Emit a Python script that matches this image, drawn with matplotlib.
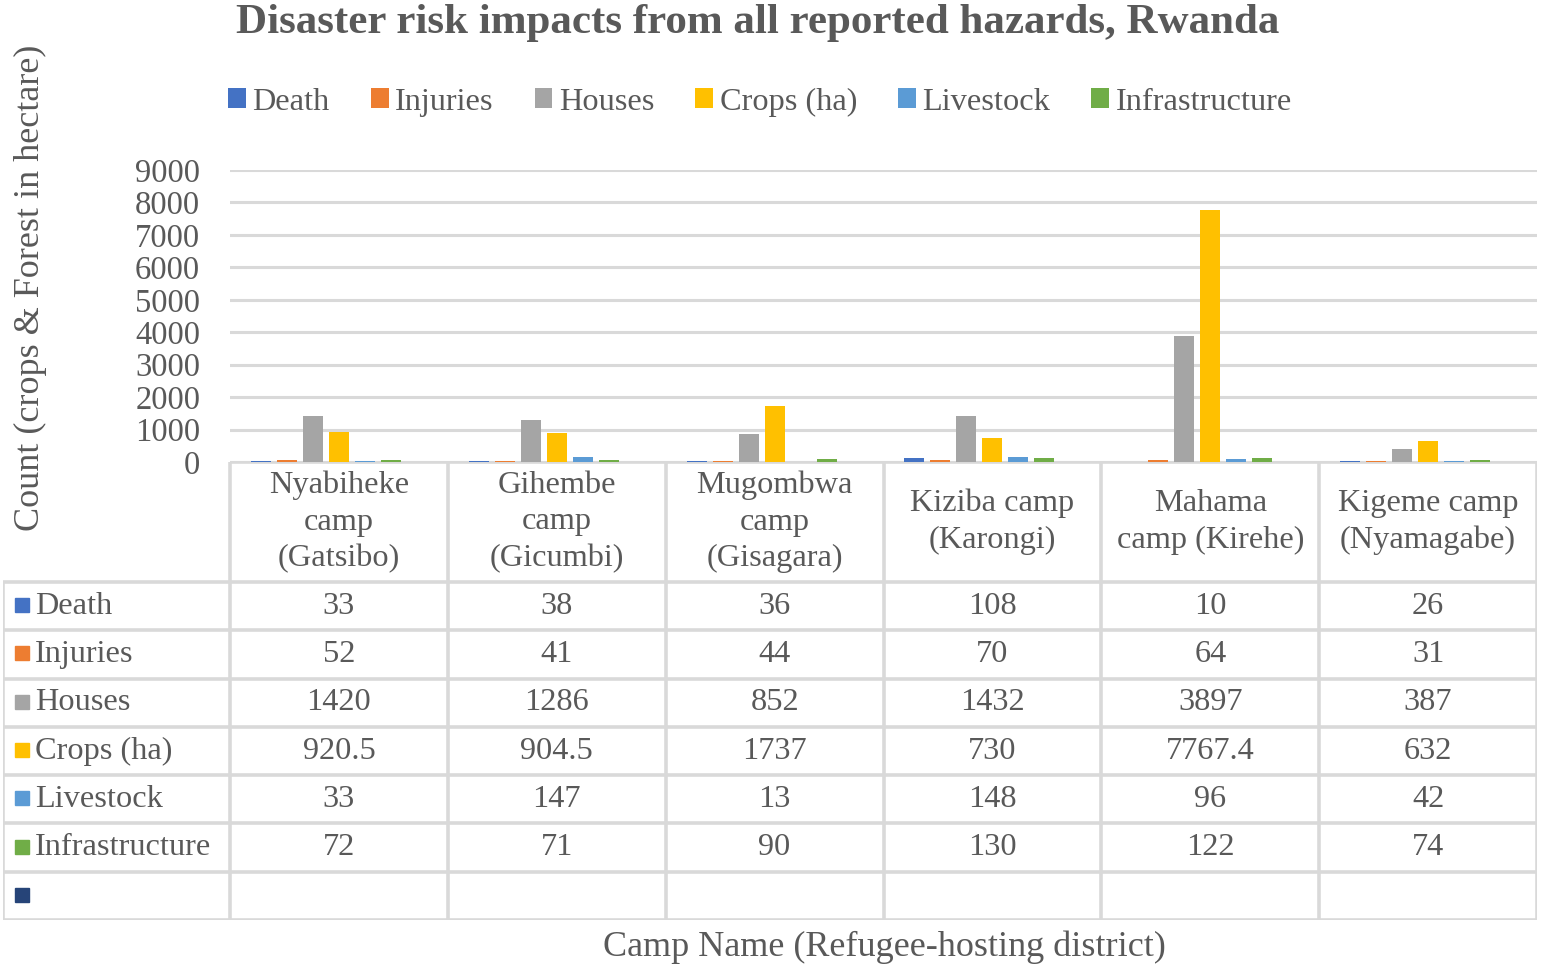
import numpy as np
import matplotlib
matplotlib.use('Agg')
from matplotlib import pyplot as plt

# chart data
camps = ['Nyabiheke\ncamp\n(Gatsibo)', 'Gihembe\ncamp\n(Gicumbi)', 'Mugombwa\ncamp\n(Gisagara)',
         'Kiziba camp\n(Karongi)', 'Mahama\ncamp (Kirehe)', 'Kigeme camp\n(Nyamagabe)']
series = ['Death', 'Injuries', 'Houses', 'Crops (ha)', 'Livestock', 'Infrastructure', '']
death = [33, 38, 36, 108, 10, 26]
injuries = [52, 41, 44, 70, 64, 31]
houses = [1420, 1286, 852, 1432, 3897, 387]
crops = [920.5, 904.5, 1737, 730, 7767.4, 632]
livestock = [33, 147, 13, 148, 96, 42]
infrastructure = [72, 71, 90, 130, 122, 74]
blank = [np.nan] * 6
values = [death, injuries, houses, crops, livestock, infrastructure, blank]
colors = ['#4472C4', '#ED7D31', '#A5A5A5', '#FFC000', '#5B9BD5', '#70AD47', '#264478']
yticks = list(range(0, 9001, 1000))

TXT = '#595959'
GRID = '#D9D9D9'
FS = 23.3
plt.rcParams['font.family'] = ['Liberation Serif', 'DejaVu Serif']

W, H = 1542, 971
fig = plt.figure(figsize=(W / 100, H / 100), dpi=100)

# plot area in pixels
pl, pr, pt, pb = 230, 1537, 170, 462
ax = fig.add_axes([pl / W, 1 - pb / H, (pr - pl) / W, (pb - pt) / H])
n = len(camps)
x = np.arange(n) + 0.5
colw = (pr - pl) / n
bw = 20 / colw
step = 26 / colw
handles = []
for k, (name, vals, c) in enumerate(zip(series, values, colors)):
    b = ax.bar(x + (k - 3) * step, vals, width=bw, color=c, zorder=3)
    if name:
        handles.append((b, name))
ax.set_xlim(0, n)
ax.set_ylim(0, 9000)
ax.set_yticks(yticks)
ax.set_xticks([])
ax.yaxis.grid(True, color=GRID, linewidth=2.2)
ax.set_axisbelow(True)
for s in ax.spines.values():
    s.set_visible(False)
ax.tick_params(axis='y', length=0, pad=21.5, labelsize=23.5, labelcolor=TXT)

# data table below the plot
tl, tb = 3, 920
hdr_h = 582 - pb
nrows = len(series)
row_h = (tb - 582) / nrows
tx = fig.add_axes([tl / W, 1 - tb / H, (pr - tl) / W, (tb - pb) / H])
left_u = -(pl - tl) / colw
tx.set_xlim(left_u, n)
tx.set_ylim(tb, pb)
tx.axis('off')
lw = 2.6
# horizontal lines
tx.hlines(pb, 0, n, color=GRID, lw=lw)
for r in range(nrows + 1):
    tx.hlines(582 + r * row_h, left_u, n, color=GRID, lw=lw)
# vertical lines
tx.vlines(left_u, 582, tb, color=GRID, lw=lw)
for i in range(n + 1):
    tx.vlines(i, pb, tb, color=GRID, lw=lw)
# header
for i, name in enumerate(camps):
    tx.text(i + 0.5, pb + hdr_h / 2, name, ha='center', va='center',
            fontsize=FS, color=TXT, linespacing=1.34)
# rows
for r, (name, vals, c) in enumerate(zip(series, values, colors)):
    yc = 582 + (r + 0.5) * row_h
    tx.plot(left_u + 19 / colw, yc - 1, marker='s', ms=10.5, color=c, lw=0)
    tx.text(left_u + 32 / colw, yc, name, ha='left', va='center', fontsize=FS, color=TXT)
    for i, v in enumerate(vals):
        if np.isnan(v):
            continue
        tx.text(i + 0.5, yc, '%g' % v, ha='center', va='center', fontsize=FS, color=TXT)

fig.legend([h for h, _ in handles], [l for _, l in handles], loc='center',
           bbox_to_anchor=(760 / W, 1 - 102 / H), ncol=6, frameon=False,
           fontsize=FS, labelcolor=TXT, handlelength=0.55, handleheight=0.55,
           handletextpad=0.2, columnspacing=1.27)

fig.text(758 / W, 1 - 23 / H, 'Disaster risk impacts from all reported hazards, Rwanda',
         ha='center', va='center', fontsize=31, fontweight='bold', color=TXT)
fig.text(30 / W, 1 - 288 / H, 'Count (crops & Forest in hectare)', rotation=90,
         ha='center', va='center', fontsize=26, color=TXT)
fig.text(884 / W, 1 - 947 / H, 'Camp Name (Refugee-hosting district)',
         ha='center', va='center', fontsize=26, color=TXT)

fig.savefig('out.png', dpi=100, facecolor='white')
